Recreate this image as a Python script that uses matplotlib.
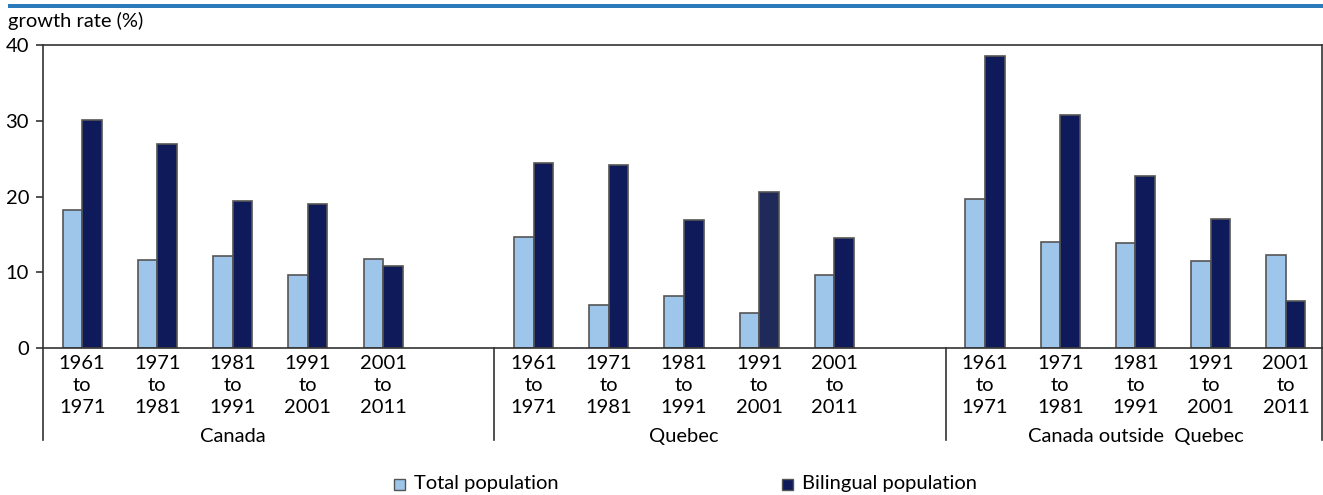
import matplotlib
matplotlib.use("Agg")
import matplotlib.pyplot as plt
from matplotlib.lines import Line2D
from matplotlib.patches import Rectangle

plt.rcParams['font.family'] = ['Lato', 'DejaVu Sans']

groups = ["Canada", "Quebec", "Canada outside  Quebec"]
periods = ["1961\nto\n1971", "1971\nto\n1981", "1981\nto\n1991", "1991\nto\n2001", "2001\nto\n2011"]
total_canada = [18.2, 11.6, 12.1, 9.7, 11.7]
biling_canada = [30.1, 26.9, 19.45, 19.0, 10.8]
total_quebec = [14.6, 5.7, 6.9, 4.6, 9.7]
biling_quebec = [24.4, 24.2, 16.9, 20.55, 14.5]
total_outside = [19.7, 14.0, 13.9, 11.5, 12.3]
biling_outside = [38.6, 30.7, 22.75, 17.0, 6.2]
yticks = [0, 10, 20, 30, 40]

light = "#9DC6EA"
dark = "#0F1A5A"
edge = "#555555"
fs = 14.5

fig = plt.figure(figsize=(13.23, 4.95), dpi=100)
ax = fig.add_axes([43/1323, 1-348/495, 1279/1323, (348-45)/495])

totals = [total_canada, total_quebec, total_outside]
bilings = [biling_canada, biling_quebec, biling_outside]
w = 0.26
for g in range(3):
    for i in range(5):
        x = g*6 + i
        ax.bar(x - w/2 + 0.02, totals[g][i], width=w, color=light, edgecolor=edge, linewidth=1.2)
        col = "#1F2A5A" if (g == 1 and i == 3) else dark
        ax.bar(x + w/2 + 0.02, bilings[g][i], width=w, color=col, edgecolor=edge, linewidth=1.2)
        ax.text(x + 0.02, -0.9, periods[i], ha="center", va="top", fontsize=fs,
                linespacing=1.38)
    ax.text(g*6 + 2 + 0.02, -10.5, groups[g], ha="center", va="top", fontsize=fs)

ax.set_xlim(-0.5, 16.5)
ax.set_ylim(0, 40)
ax.set_yticks(yticks)
ax.set_yticklabels([str(t) for t in yticks], fontsize=fs)
ax.tick_params(axis="y", direction="out", length=5, width=1.2, pad=5, colors="#333333", labelcolor="black")
ax.set_xticks([])
for s in ax.spines.values():
    s.set_color("#333333")
    s.set_linewidth(1.2)

# separators below axis
for xs in [-0.5, 5.5, 11.5, 16.5]:
    ax.add_line(Line2D([xs, xs], [0, -12.2], color="#333333", linewidth=1.2, clip_on=False))

# y label
fig.text(8/1323, 1-21/495, "growth rate (%)", fontsize=fs, ha="left", va="center")

# top band
fig.add_artist(Rectangle((8/1323, 1-8/495), 1315/1323, 4/495, transform=fig.transFigure,
                         facecolor="#2B7BBA", edgecolor="none"))

# legend
for x0, c, lab in [(394, light, "Total population"), (782, dark, "Bilingual population")]:
    fig.add_artist(Rectangle((x0/1323, 1-490/495), 11/1323, 11/495, transform=fig.transFigure,
                             facecolor=c, edgecolor=edge, linewidth=1))
    fig.text((x0+20)/1323, 1-484/495, lab, fontsize=fs, ha="left", va="center")

fig.savefig("out.png", dpi=100)
